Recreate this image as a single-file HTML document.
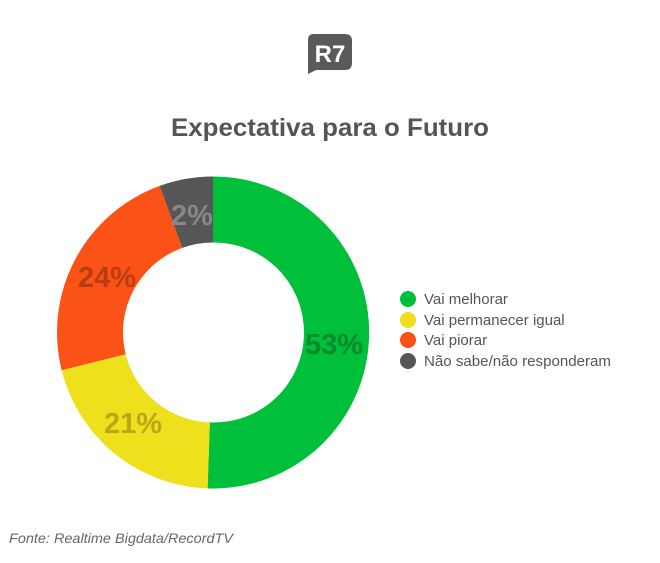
<!DOCTYPE html>
<html><head><meta charset="utf-8"><style>
body{margin:0;background:#fff;width:660px;height:558px;overflow:hidden;font-family:"Liberation Sans",sans-serif}
</style></head><body>
<svg width="660" height="558" viewBox="0 0 660 558" xmlns="http://www.w3.org/2000/svg">
<rect width="660" height="558" fill="#fff"/>
<path d="M314,34 H345 Q352,34 352,41 V63 Q352,70 345,70 H316 L308,74 L308,40 Q308,34 314,34 Z" fill="#5a5a5a"/>
<text x="330" y="62" text-anchor="middle" font-size="24" font-weight="bold" fill="#fff" font-family="Liberation Sans,sans-serif">R7</text>
<text x="330" y="136" text-anchor="middle" font-size="25" font-weight="bold" fill="#555" textLength="318" lengthAdjust="spacingAndGlyphs">Expectativa para o Futuro</text>
<path d="M213,176.5 A156,156 0 1 1 207.56,488.4 L209.86,422.4 A90,90 0 1 0 213,242.5 Z" fill="#00bf3a"/>
<path d="M207.56,488.4 A156,156 0 0 1 61.63,370.2 L125.67,354.3 A90,90 0 0 0 209.86,422.4 Z" fill="#eee01d"/>
<path d="M61.63,370.2 A156,156 0 0 1 159.65,185.9 L182.22,247.9 A90,90 0 0 0 125.67,354.3 Z" fill="#fb5217"/>
<path d="M159.65,185.9 A156,156 0 0 1 213,176.5 L213,242.5 A90,90 0 0 0 182.22,247.9 Z" fill="#565656"/>
<g font-weight="bold" font-size="29" text-anchor="middle">
<text x="334" y="354" fill="#008a2c">53%</text>
<text x="133" y="433" fill="#b9a815">21%</text>
<text x="107" y="287" fill="#b83e12">24%</text>
<text x="192" y="225" fill="#888">2%</text>
</g>
<g font-size="15" fill="#555">
<circle cx="408" cy="299" r="8" fill="#00bf3a"/><text x="424" y="304">Vai melhorar</text>
<circle cx="408" cy="320" r="8" fill="#eee01d"/><text x="424" y="325">Vai permanecer igual</text>
<circle cx="408" cy="340" r="8" fill="#fb5217"/><text x="424" y="345">Vai piorar</text>
<circle cx="408" cy="361" r="8" fill="#565656"/><text x="424" y="366" textLength="187" lengthAdjust="spacingAndGlyphs">Não sabe/não responderam</text>
</g>
<text x="9" y="543" font-size="14" font-style="italic" fill="#666" textLength="224" lengthAdjust="spacingAndGlyphs">Fonte: Realtime Bigdata/RecordTV</text>
</svg>
</body></html>
